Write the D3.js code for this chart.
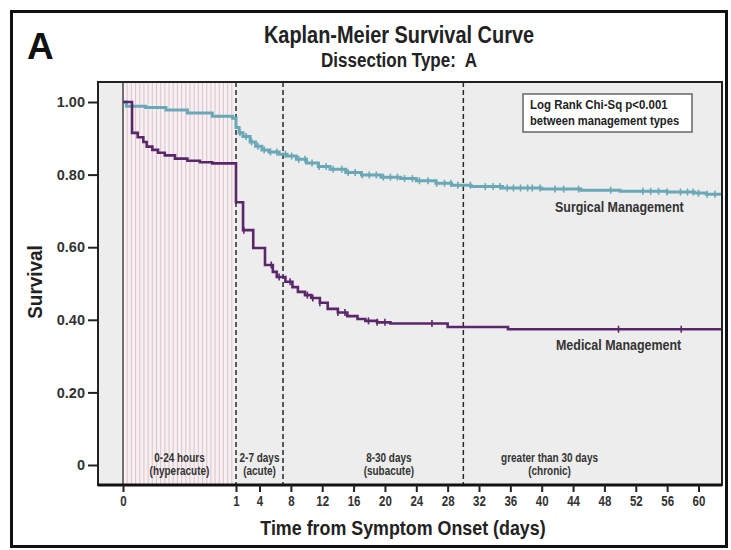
<!DOCTYPE html>
<html>
<head>
<meta charset="utf-8">
<script src="https://cdn.jsdelivr.net/npm/d3@7"></script>
<style>
  body { margin: 0; background: #fff; }
  svg text { font-family: "Liberation Sans", Arial, sans-serif; font-weight: bold; fill: #222; }
</style>
</head>
<body>
<div id="chart"></div>
<script>
// Kaplan-Meier steps: [day, survival]
const surgicalSteps = [
  [0, 1.0], [0.03, 0.988], [0.2, 0.985], [0.38, 0.978], [0.57, 0.970], [0.79, 0.961], [0.97, 0.955],
  [1.0, 0.930], [1.4, 0.915], [1.9, 0.905], [2.8, 0.890], [3.5, 0.878], [4.3, 0.868], [5.2, 0.862],
  [6.5, 0.856], [7.5, 0.851], [8.7, 0.842], [10, 0.832], [11.5, 0.822], [13, 0.815], [15, 0.806],
  [17, 0.799], [19.5, 0.793], [22, 0.789], [24, 0.783], [26.5, 0.776], [28.5, 0.771], [31, 0.767],
  [35, 0.763], [40, 0.760], [45, 0.757], [50, 0.754], [56, 0.752], [59.5, 0.749], [61, 0.746]
];
const medicalSteps = [
  [0, 1.0], [0.08, 0.915], [0.13, 0.903], [0.18, 0.890], [0.21, 0.877], [0.26, 0.868], [0.31, 0.860],
  [0.37, 0.853], [0.46, 0.844], [0.57, 0.838], [0.68, 0.834], [0.79, 0.831],
  [1.0, 0.724], [1.9, 0.647], [3.2, 0.598], [4.7, 0.551], [5.7, 0.532], [6.2, 0.518], [7.3, 0.505],
  [8.2, 0.490], [8.9, 0.477], [9.8, 0.468], [10.6, 0.460], [11.7, 0.447], [12.7, 0.430], [14.0, 0.420],
  [15.2, 0.410], [16.5, 0.402], [17.5, 0.397], [19.0, 0.393], [20.7, 0.390], [28.0, 0.380], [35.7, 0.374]
];
// censored observations (days)
const surgicalCensor = [1.5, 2.3, 3.0, 3.8, 4.6, 5.4, 6.2, 7.3, 8.1, 9.0, 9.8, 10.7, 11.6, 12.5, 13.4,
  14.5, 15.3, 16.2, 17.1, 18.0, 18.9, 19.8, 20.7, 21.6, 22.5, 23.5, 24.4, 25.5, 26.6, 27.6, 28.4, 29.3,
  30.9, 32.8, 33.8, 34.7, 35.6, 36.4, 37.3, 38.2, 38.8, 39.8, 41.7, 42.8, 44.7, 48.8, 52.9, 53.9,
  54.9, 56.0, 57.7, 58.6, 59.3, 60.0, 61.1, 62.1];
const medicalCensor = [2.0, 5.5, 6.5, 7.9, 10.1, 10.8, 11.7, 14.0, 14.9, 17.9, 19.0, 20.0, 26.0, 49.8, 57.8];

const endDay = 63;
const xTicks = [0, 1, 4, 8, 12, 16, 20, 24, 28, 32, 36, 40, 44, 48, 52, 56, 60];
const yTicks = [0, 0.2, 0.4, 0.6, 0.8, 1.0];
const phaseBreaks = [1, 7, 30];
const phaseLabels = [
  {day: 0.5, l1: "0-24 hours", l2: "(hyperacute)"},
  {day: 4, l1: "2-7 days", l2: "(acute)"},
  {day: 20.5, l1: "8-30 days", l2: "(subacute)"},
  {day: 41, l1: "greater than 30 days", l2: "(chronic)"}
];

const width = 731, height = 550;
const frame = {left: 98, right: 722, top: 82, bottom: 485};

const svg = d3.select("#chart").append("svg")
  .attr("width", width).attr("height", height);

// squeeze text horizontally (the original uses a narrow face)
function narrow(sel, f) {
  sel.each(function() {
    const w = this.getComputedTextLength();
    d3.select(this).attr("textLength", w * f).attr("lengthAdjust", "spacingAndGlyphs");
  });
  return sel;
}

// outer border
svg.append("rect")
  .attr("x", 11.5).attr("y", 11.5).attr("width", 715).attr("height", 535)
  .attr("fill", "none").attr("stroke", "#111").attr("stroke-width", 3);

const x = d3.scaleLinear().domain([0, 1, endDay]).range([123, 236, frame.right]);
const y = d3.scaleLinear().domain([0, 1]).range([465, 102]);

// plot background
svg.append("rect")
  .attr("x", frame.left).attr("y", frame.top)
  .attr("width", frame.right - frame.left).attr("height", frame.bottom - frame.top)
  .attr("fill", "#ededed");

// hyperacute stripes
svg.append("rect")
  .attr("x", x(0)).attr("y", frame.top)
  .attr("width", x(1) - x(0)).attr("height", frame.bottom - frame.top)
  .attr("fill", "#f6f0f2");
svg.selectAll(".stripe")
  .data(d3.range(1, 27).map(i => i / 27))
  .enter().append("line")
  .attr("class", "stripe")
  .attr("x1", d => x(d)).attr("x2", d => x(d))
  .attr("y1", frame.top).attr("y2", frame.bottom)
  .attr("stroke", "#dfc6ce").attr("stroke-width", 1.1);

// day 0 line and phase dividers
svg.append("line")
  .attr("x1", x(0)).attr("x2", x(0)).attr("y1", frame.top).attr("y2", frame.bottom)
  .attr("stroke", "#444").attr("stroke-width", 1.5);
svg.selectAll(".phase")
  .data(phaseBreaks)
  .enter().append("line")
  .attr("x1", d => x(d)).attr("x2", d => x(d))
  .attr("y1", frame.top).attr("y2", frame.bottom)
  .attr("stroke", "#2a2a2a").attr("stroke-width", 1.5).attr("stroke-dasharray", "5,3");

// phase labels
const pl = svg.selectAll(".plabel").data(phaseLabels).enter().append("g");
narrow(pl.append("text").attr("x", d => x(d.day)).attr("y", 462)
  .attr("text-anchor", "middle").style("font-size", "12px").style("fill", "#333").text(d => d.l1), 0.83);
narrow(pl.append("text").attr("x", d => x(d.day)).attr("y", 475)
  .attr("text-anchor", "middle").style("font-size", "12px").style("fill", "#333").text(d => d.l2), 0.83);

// survival curves
function extend(steps) {
  return steps.concat([[endDay, steps[steps.length - 1][1]]]);
}
function survAt(steps, day) {
  let s = steps[0][1];
  steps.forEach(p => { if (p[0] <= day) s = p[1]; });
  return s;
}
const line = d3.line().x(d => x(d[0])).y(d => y(d[1])).curve(d3.curveStepAfter);

const series = [
  {steps: surgicalSteps, censor: surgicalCensor, color: "#69a8b7", w: 3},
  {steps: medicalSteps, censor: medicalCensor, color: "#5a276a", w: 2.6}
];
series.forEach(s => {
  svg.append("path").datum(extend(s.steps))
    .attr("d", line).attr("fill", "none")
    .attr("stroke", s.color).attr("stroke-width", s.w);
  svg.selectAll(null).data(s.censor).enter().append("line")
    .attr("x1", d => x(d)).attr("x2", d => x(d))
    .attr("y1", d => y(survAt(s.steps, d)) - 3.5)
    .attr("y2", d => y(survAt(s.steps, d)) + 3.5)
    .attr("stroke", s.color).attr("stroke-width", 1.6);
});

// frame
svg.append("rect")
  .attr("x", frame.left).attr("y", frame.top)
  .attr("width", frame.right - frame.left).attr("height", frame.bottom - frame.top)
  .attr("fill", "none").attr("stroke", "#222").attr("stroke-width", 2);
svg.append("line")
  .attr("x1", frame.left).attr("x2", frame.right).attr("y1", frame.bottom).attr("y2", frame.bottom)
  .attr("stroke", "#111").attr("stroke-width", 3);

// axes
const xAxis = svg.append("g")
  .attr("transform", `translate(0,${frame.bottom})`)
  .call(d3.axisBottom(x).tickValues(xTicks).tickSize(7).tickPadding(4).tickFormat(d3.format("d")));
xAxis.select(".domain").remove();
xAxis.selectAll("line").attr("stroke", "#222").attr("stroke-width", 2);
narrow(xAxis.selectAll("text").style("font-size", "14px").style("fill", "#333"), 0.82);

const yAxis = svg.append("g")
  .attr("transform", `translate(${frame.left},0)`)
  .call(d3.axisLeft(y).tickValues(yTicks).tickSize(10).tickPadding(3)
    .tickFormat(d => d === 0 ? "0" : d3.format(".2f")(d)));
yAxis.select(".domain").remove();
yAxis.selectAll("line").attr("stroke", "#222").attr("stroke-width", 2);
yAxis.selectAll("text").style("font-size", "14.5px").style("fill", "#333");

// titles
svg.append("text").attr("x", 27).attr("y", 59)
  .style("font-size", "37px").style("fill", "#111").text("A");
narrow(svg.append("text").attr("x", 399).attr("y", 43).attr("text-anchor", "middle")
  .style("font-size", "24px").text("Kaplan-Meier Survival Curve"), 0.83);
narrow(svg.append("text").attr("x", 399).attr("y", 67).attr("text-anchor", "middle")
  .style("font-size", "20px").style("white-space", "pre").text("Dissection Type:  A"), 0.85);
narrow(svg.append("text").attr("x", 403).attr("y", 535).attr("text-anchor", "middle")
  .style("font-size", "21px").text("Time from Symptom Onset (days)"), 0.85);
narrow(svg.append("text").attr("transform", "translate(42,282) rotate(-90)").attr("text-anchor", "middle")
  .style("font-size", "21px").text("Survival"), 0.9);

// log-rank box
svg.append("rect").attr("x", 523).attr("y", 94).attr("width", 169).attr("height", 38)
  .attr("fill", "#fff").attr("stroke", "#666").attr("stroke-width", 1.5);
narrow(svg.append("text").attr("x", 530).attr("y", 109).style("font-size", "13px")
  .text("Log Rank Chi-Sq p<0.001"), 0.88);
narrow(svg.append("text").attr("x", 530).attr("y", 125).style("font-size", "13px")
  .text("between management types"), 0.86);

// curve labels
narrow(svg.append("text").attr("x", 555).attr("y", 212).style("font-size", "15px").style("fill", "#333")
  .text("Surgical Management"), 0.83);
narrow(svg.append("text").attr("x", 556).attr("y", 350).style("font-size", "15px").style("fill", "#333")
  .text("Medical Management"), 0.83);
</script>
</body>
</html>
